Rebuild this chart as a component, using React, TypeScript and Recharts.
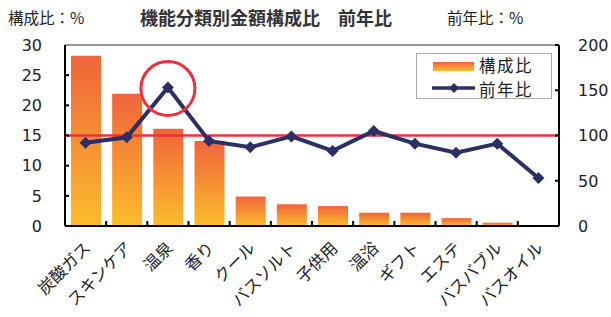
import React from 'react';
import { ComposedChart, Bar, Line, XAxis, YAxis, ReferenceLine, ReferenceDot, Legend } from 'recharts';

const categories = ['炭酸ガス', 'スキンケア', '温泉', '香り', 'クール', 'バスソルト', '子供用', '温浴', 'ギフト', 'エステ', 'バスバブル', 'バスオイル'];
const shareValues = [28.2, 21.9, 16.1, 14.1, 4.9, 3.6, 3.3, 2.2, 2.2, 1.3, 0.55, 0];
const yoyValues = [92, 98, 153, 94, 87, 99, 83, 105, 91, 81, 91, 53];
const leftTicks = [0, 5, 10, 15, 20, 25, 30];
const rightTicks = [0, 50, 100, 150, 200];

const data = categories.map((name, i) => ({ name, share: shareValues[i], yoy: yoyValues[i] }));

const NUM_FONT = '"DejaVu Sans", sans-serif';
const JP_FONT = '"Noto Sans CJK JP", sans-serif';
const NAVY = '#2d2e62';
const RED = '#e8333f';
const BAND = 494 / categories.length;

const Diamond = ({ cx, cy, size = 6 }: any) => {
  if (cx == null || cy == null) return null;
  return (
    <polygon
      points={`${cx},${cy - size} ${cx + size},${cy} ${cx},${cy + size} ${cx - size},${cy}`}
      fill={NAVY}
    />
  );
};

const XTick = ({ x, y, payload, index }: any) => (
  <g>
    {index < categories.length - 1 && (
      <line x1={x + BAND / 2} x2={x + BAND / 2} y1={y} y2={y - 5} stroke="#000" strokeWidth={2} />
    )}
    <text
      x={x + 6}
      y={y + 23}
      transform={`rotate(-45 ${x + 6} ${y + 23})`}
      textAnchor="end"
      fontSize={16.5}
      fontFamily={JP_FONT}
      fill="#222"
    >
      {payload.value}
    </text>
  </g>
);

const LeftTick = ({ x, y, payload }: any) => (
  <g>
    {payload.value !== 0 && payload.value !== 30 && (
      <line x1={x} x2={x + 4} y1={y} y2={y} stroke="#000" strokeWidth={2} />
    )}
    <text x={x - 23} y={y} dy="0.36em" textAnchor="end" fontSize={16} fontFamily={NUM_FONT} fill="#222">
      {payload.value}
    </text>
  </g>
);

const RightTick = ({ x, y, payload }: any) => (
  <g>
    <line x1={x} x2={x - 4} y1={y} y2={y} stroke="#000" strokeWidth={2} />
    <text x={x + 19} y={y} dy="0.36em" textAnchor="start" fontSize={16} fontFamily={NUM_FONT} fill="#222">
      {payload.value}
    </text>
  </g>
);

const LegendBox = () => (
  <div
    style={{
      width: 136,
      height: 46,
      boxSizing: 'border-box',
      border: '1px solid #aaa',
      background: '#fff',
      fontFamily: JP_FONT,
      fontSize: 16.5,
      letterSpacing: 1.5,
      color: '#222',
      lineHeight: '22px',
      position: 'relative',
    }}
  >
    <svg width={44} height={44} style={{ position: 'absolute', left: 15, top: 0 }}>
      <defs>
        <linearGradient id="legendGrad" x1="0" y1="0" x2="0" y2="1">
          <stop offset="0%" stopColor="#f0643a" />
          <stop offset="100%" stopColor="#fbbd2c" />
        </linearGradient>
      </defs>
      <rect x={1} y={8} width={41} height={9} fill="url(#legendGrad)" />
      <line x1={0} x2={43} y1={34} y2={34} stroke={NAVY} strokeWidth={3.5} />
      <Diamond cx={22} cy={34} size={5} />
    </svg>
    <div style={{ position: 'absolute', left: 62, top: 0, height: 22 }}>構成比</div>
    <div style={{ position: 'absolute', left: 62, top: 24, height: 22 }}>前年比</div>
  </div>
);

export default function App() {
  return (
    <div style={{ position: 'absolute', left: 0, top: 0, width: 611, height: 317, background: '#fff' }}>
      <div style={{ position: 'absolute', left: 8, top: 6, fontSize: 15.5, fontFamily: JP_FONT, color: '#222' }}>構成比：%</div>
      <div style={{ position: 'absolute', left: 140, top: 4, fontSize: 18, fontWeight: 'bold', fontFamily: JP_FONT, color: '#333' }}>
        機能分類別金額構成比　前年比
      </div>
      <div style={{ position: 'absolute', left: 447, top: 6, fontSize: 15.5, fontFamily: JP_FONT, color: '#222' }}>前年比：%</div>
      <ComposedChart width={611} height={317} data={data} margin={{ top: 45, right: 0, bottom: 0, left: 0 }}>
        <defs>
          <linearGradient id="barGrad" x1="0" y1="0" x2="0" y2="1">
            <stop offset="0%" stopColor="#f0643a" />
            <stop offset="100%" stopColor="#fbbd2c" />
          </linearGradient>
        </defs>
        <XAxis
          dataKey="name"
          interval={0}
          height={91}
          tickSize={0}
          tickMargin={0}
          tick={<XTick />}
          axisLine={{ stroke: '#000', strokeWidth: 2 }}
        />
        <YAxis
          yAxisId="left"
          width={65}
          domain={[0, 30]}
          ticks={leftTicks}
          tickSize={0}
          tickMargin={0}
          tick={<LeftTick />}
          axisLine={{ stroke: '#000', strokeWidth: 2 }}
        />
        <YAxis
          yAxisId="right"
          orientation="right"
          width={52}
          domain={[0, 200]}
          ticks={rightTicks}
          tickSize={0}
          tickMargin={0}
          tick={<RightTick />}
          axisLine={{ stroke: '#000', strokeWidth: 2 }}
        />
        <Legend
          layout="vertical"
          align="center"
          verticalAlign="middle"
          content={<LegendBox />}
          wrapperStyle={{ left: 416, top: 53, width: 136, height: 46 }}
        />
        <ReferenceLine yAxisId="left" y={30} stroke="#999" strokeWidth={2} />
        <Bar yAxisId="left" dataKey="share" name="構成比" fill="url(#barGrad)" barSize={30} isAnimationActive={false} />
        <ReferenceLine yAxisId="right" y={100} stroke={RED} strokeWidth={2.5} />
        <Line
          yAxisId="right"
          dataKey="yoy"
          name="前年比"
          stroke={NAVY}
          strokeWidth={4}
          dot={<Diamond />}
          activeDot={false}
          isAnimationActive={false}
        />
        <ReferenceDot yAxisId="right" x="温泉" y={152} r={27} fill="none" stroke={RED} strokeWidth={3} />
      </ComposedChart>
    </div>
  );
}
